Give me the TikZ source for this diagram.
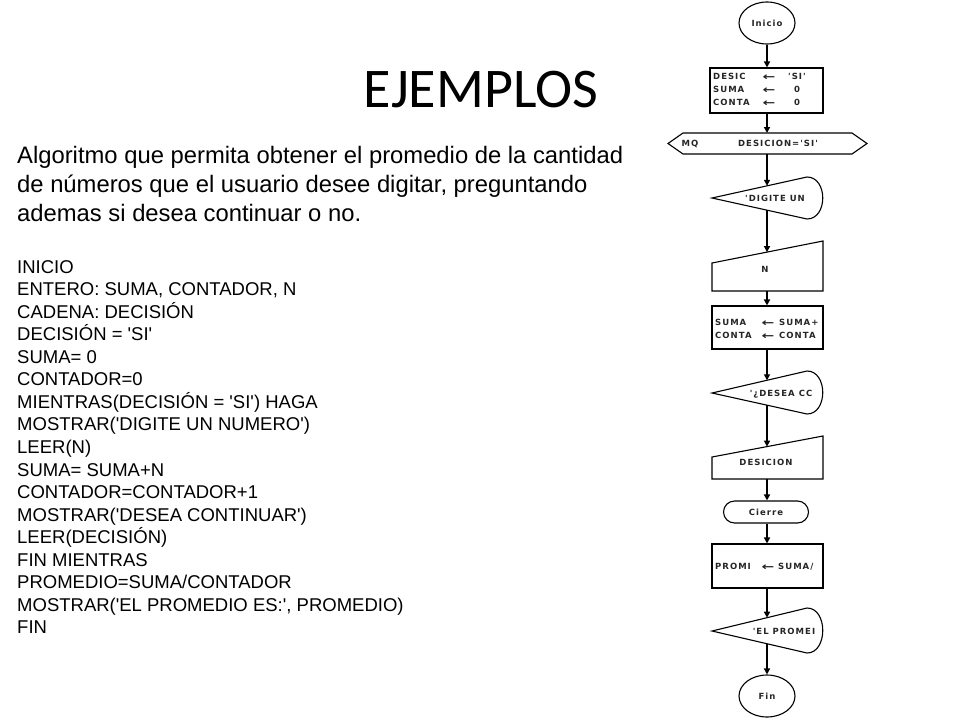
\documentclass[tikz,border=0pt]{standalone}
\usepackage{fontspec}
\usepackage{graphicx}
\newfontfamily\arialfont{Liberation Sans}
\newfontfamily\titlefont{Carlito}
\newfontfamily\fcfont{DejaVu Sans}[LetterSpace=12]
\newfontfamily\arrfont{DejaVu Sans}
\newcommand{\fcarrow}{\scalebox{1.45}[1.0]{←}}
\usetikzlibrary{arrows.meta,shapes.geometric}
\begin{document}
\begin{tikzpicture}[x=1pt,y=-1pt,
  shp/.style={draw=black,line width=1.1pt},
  conn/.style={draw=black,line width=1.6pt,-{Triangle[length=6pt,width=6pt]}},
  fctext/.style={font=\fcfont\bfseries\fontsize{8.5}{9}\selectfont,inner sep=0pt,text=black!85,text height=6.2pt,text depth=0pt},
  par/.style={font=\arialfont\fontsize{23.8}{26}\selectfont,anchor=base west,inner sep=0pt},
  code/.style={font=\arialfont\fontsize{18.5}{20}\selectfont,anchor=base west,inner sep=0pt},
  larr/.style={font=\arrfont\bfseries\fontsize{10.5}{10.5}\selectfont,inner sep=0pt,text=black!85,yshift=-1.6pt}]
\useasboundingbox (0,0) rectangle (960,720);
\fill[white] (0,0) rectangle (960,720);

% title
\node[font=\titlefont\fontsize{56}{60}\selectfont,anchor=base,inner sep=0pt] (title) at (481,107) {EJEMPLOS};

% paragraph
\node[par] (p1) at (17,163) {Algoritmo que permita obtener el promedio de la cantidad};
\node[par] (p2) at (17,192) {de números que el usuario desee digitar, preguntando};
\node[par] (p3) at (17,221) {ademas si desea continuar o no.};

% code listing
\foreach \t [count=\i from 0] in {INICIO,{ENTERO: SUMA, CONTADOR, N},{CADENA: DECISIÓN},{DECISIÓN = 'SI'},{SUMA= 0},{CONTADOR=0},{MIENTRAS(DECISIÓN = 'SI') HAGA},{MOSTRAR('DIGITE UN NUMERO')},{LEER(N)},{SUMA= SUMA+N},{CONTADOR=CONTADOR+1},{MOSTRAR('DESEA CONTINUAR')},{LEER(DECISIÓN)},{FIN MIENTRAS},{PROMEDIO=SUMA/CONTADOR},{MOSTRAR('EL PROMEDIO ES:', PROMEDIO)},FIN}
  \node[code] (c\i) at (17,{273+22.56*\i}) {\t};

% ---------- flowchart ----------
% Inicio
\node[shp,ellipse,minimum width=56pt,minimum height=42pt,inner sep=0pt] (ini) at (767,23) {};
\node[fctext] (tini) at (767,23) {Inicio};

% init box
\node[shp,rectangle,minimum width=113pt,minimum height=45pt,inner sep=0pt] (r1) at (766.5,90.5) {};
\node[fctext,anchor=west] (r1a) at (713,76) {DESIC};
\node[fctext,anchor=west] (r1b) at (713,89) {SUMA};
\node[fctext,anchor=west] (r1c) at (713,102) {CONTA};
\node[larr] (r1d) at (769,76) {\fcarrow};
\node[larr] (r1e) at (769,89) {\fcarrow};
\node[larr] (r1f) at (769,102) {\fcarrow};
\node[fctext] (r1g) at (797,76) {'SI'};
\node[fctext] (r1h) at (797,89) {0};
\node[fctext] (r1i) at (797,102) {0};

% MQ hexagon
\draw[shp] (668,143.5) -- (683,133) -- (852,133) -- (867,143.5) -- (852,154) -- (683,154) -- cycle;
\coordinate (hexT) at (767,133);
\coordinate (hexB) at (767,154);
\node[fctext] (mq) at (690,143.5) {MQ};
\node[fctext] (mqc) at (778,143.5) {DESICION='SI'};

% display 1
\draw[shp] (712,198) -- (807,177) .. controls (828,177) and (828,219) .. (807,219) -- cycle;
\coordinate (d1T) at (767,185.8);
\coordinate (d1B) at (767,210.2);
\node[fctext] (d1) at (775,198) {'DIGITE UN};

% manual input 1
\draw[shp] (712,263) -- (823,241) -- (823,291) -- (712,291) -- cycle;
\coordinate (m1T) at (767,252.1);
\coordinate (m1B) at (767,291);
\node[fctext] (m1) at (765,269) {N};

% process box 2
\node[shp,rectangle,minimum width=111pt,minimum height=43pt,inner sep=0pt] (r2) at (767.5,327.5) {};
\node[fctext,anchor=west] (r2a) at (715,322) {SUMA};
\node[fctext,anchor=west] (r2b) at (715,335) {CONTA};
\node[larr] (r2c) at (768,322) {\fcarrow};
\node[larr] (r2d) at (768,335) {\fcarrow};
\node[fctext,anchor=west] (r2e) at (779,322) {SUMA+};
\node[fctext,anchor=west] (r2f) at (779,335) {CONTA};

% display 2
\draw[shp] (712,393) -- (807,371) .. controls (828,371) and (828,414) .. (807,414) -- cycle;
\coordinate (d2T) at (767,380.3);
\coordinate (d2B) at (767,405.2);
\node[fctext] (d2) at (781,393) {'¿DESEA CC};

% manual input 2
\draw[shp] (712,457) -- (823,436) -- (823,479) -- (712,479) -- cycle;
\coordinate (m2T) at (767,446.6);
\coordinate (m2B) at (767,479);
\node[fctext] (m2) at (766,462.5) {DESICION};

% Cierre
\node[shp,rectangle,rounded corners=11pt,minimum width=85pt,minimum height=22pt,inner sep=0pt] (cie) at (766,512) {};
\node[fctext] (tcie) at (766,512) {Cierre};

% process box 3
\node[shp,rectangle,minimum width=111pt,minimum height=44pt,inner sep=0pt] (r3) at (767.5,566) {};
\node[fctext,anchor=west] (r3a) at (715,566) {PROMI};
\node[larr] (r3b) at (768,566) {\fcarrow};
\node[fctext,anchor=west] (r3c) at (778,566) {SUMA/};

% display 3
\draw[shp] (712,631) -- (807,608) .. controls (828,608) and (828,653) .. (807,653) -- cycle;
\coordinate (d3T) at (767,617.7);
\coordinate (d3B) at (767,643.7);
\node[fctext] (d3) at (784,631) {'EL PROMEI};

% Fin
\node[shp,ellipse,minimum width=56pt,minimum height=42pt,inner sep=0pt] (fin) at (767,696) {};
\node[fctext] (tfin) at (767,696) {Fin};

% connectors
\draw[conn] (ini.south) -- (ini.south |- r1.north);
\draw[conn] (r1.south -| hexT) -- (hexT);
\draw[conn] (hexB) -- (d1T);
\draw[conn] (d1B) -- (m1T);
\draw[conn] (m1B) -- (m1B |- r2.north);
\draw[conn] (r2.south -| d2T) -- (d2T);
\draw[conn] (d2B) -- (m2T);
\draw[conn] (m2B) -- (m2B |- cie.north);
\draw[conn] (cie.south -| m2B) -- (m2B |- r3.north);
\draw[conn] (r3.south -| d3T) -- (d3T);
\draw[conn] (d3B) -- (fin.north);
\end{tikzpicture}
\end{document}
